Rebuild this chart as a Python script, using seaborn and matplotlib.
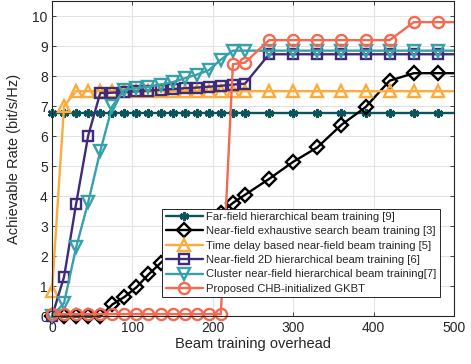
import matplotlib
matplotlib.use("Agg")
import matplotlib.pyplot as plt
import seaborn as sns
import numpy as np
import pandas as pd

overhead = [0, 15, 30, 45, 60, 75, 90, 105, 120, 135, 150, 165, 180, 195, 210, 225, 240,
            270, 300, 330, 360, 390, 420, 450, 480, 500]

far_field = [6.78] * 26
exhaustive = [0, 0, 0, 0, 0, 0.4, 0.65, 0.97, 1.4, 1.78, 2.15, 2.5, 2.82, 3.15, 3.45, 3.78, 4.05,
              4.58, 5.15, 5.63, 6.38, 6.97, 7.85, 8.1, 8.1, 8.1]
time_delay = [0.85, 7.0] + [7.5] * 24
nf_2d = [0, 1.32, 3.75, 6.02, 7.44, 7.45, 7.47, 7.5, 7.52, 7.55, 7.57, 7.6, 7.62, 7.65, 7.68, 7.72, 7.75,
         8.73, 8.73, 8.73, 8.73, 8.73, 8.73, 8.73, 8.73, 8.73]
cluster = [0, 0.45, 2.3, 3.8, 5.5, 7.0, 7.55, 7.6, 7.65, 7.72, 7.8, 7.93, 8.05, 8.2, 8.55, 8.85, 8.85,
           8.85, 8.85, 8.85, 8.85, 8.85, 8.85, 8.85, 8.85, 8.85]
proposed = [0.08] * 15 + [8.4, 8.45] + [9.2] * 6 + [9.8, 9.8, 9.8]

labels = ["Far-field hierarchical beam training [9]",
          "Near-field exhaustive search beam training [3]",
          "Time delay based near-field beam training [5]",
          "Near-field 2D hierarchical beam training [6]",
          "Cluster near-field hierarchical beam training[7]",
          "Proposed CHB-initialized GKBT"]
series = [far_field, exhaustive, time_delay, nf_2d, cluster, proposed]
colors = ["#0c545c", "#000000", "#fdab3a", "#3f2b78", "#38a0a9", "#f36a50"]
markers = [(6, 2, 0), "D", "^", "s", "v", "o"]
msizes = [6.5, 7, 8, 6.5, 8, 8]

sns.set_theme(style="whitegrid")
plt.rcParams['font.family'] = ['Liberation Sans', 'DejaVu Sans']

fig = plt.figure(figsize=(4.71, 3.64), dpi=100)
ax = fig.add_axes([0.1104, 0.1305, 0.8535, 0.8665])
ax.set_facecolor("white")

mk_idx = list(range(len(overhead) - 1))
for lab, ys, c, m, ms in zip(labels, series, colors, markers, msizes):
    df = pd.DataFrame({"x": overhead, "y": ys})
    kw = dict(markerfacecolor="none") if m != (6, 2, 0) else dict(markerfacecolor=c)
    sns.lineplot(data=df, x="x", y="y", ax=ax, color=c, linewidth=1.7, marker=m,
                 markersize=ms, markeredgewidth=1.9 if m == (6, 2, 0) else 1.7,
                 markeredgecolor=c, markevery=mk_idx,
                 label=lab, sort=False, estimator=None, clip_on=False, **kw)

ax.set_xlim(0, 500)
ax.set_ylim(0, 10.5)
ax.set_xticks([0, 100, 200, 300, 400, 500])
ax.set_yticks(range(0, 11))
ax.grid(True, color="#e3e3e3", linewidth=0.8)
for s in ax.spines.values():
    s.set_visible(True)
    s.set_color("#262626")
    s.set_linewidth(0.8)
ax.tick_params(direction="in", length=3, width=0.6, colors="#262626", labelsize=10,
               top=True, right=True, bottom=True, left=True, pad=3)
ax.set_xlabel("Beam training overhead", fontsize=10.5, color="#262626", labelpad=2)
ax.set_ylabel("Achievable Rate (bit/s/Hz)", fontsize=10.5, color="#262626", labelpad=8)

leg = ax.legend(loc="lower right", bbox_to_anchor=(0.965, 0.061), fontsize=8.1, frameon=True,
                fancybox=False, edgecolor="#262626", framealpha=1, borderpad=0.3,
                labelspacing=0.39, handlelength=3.3, handletextpad=0.3, borderaxespad=0)
leg.get_frame().set_linewidth(0.7)

fig.savefig("out.png", dpi=100)
